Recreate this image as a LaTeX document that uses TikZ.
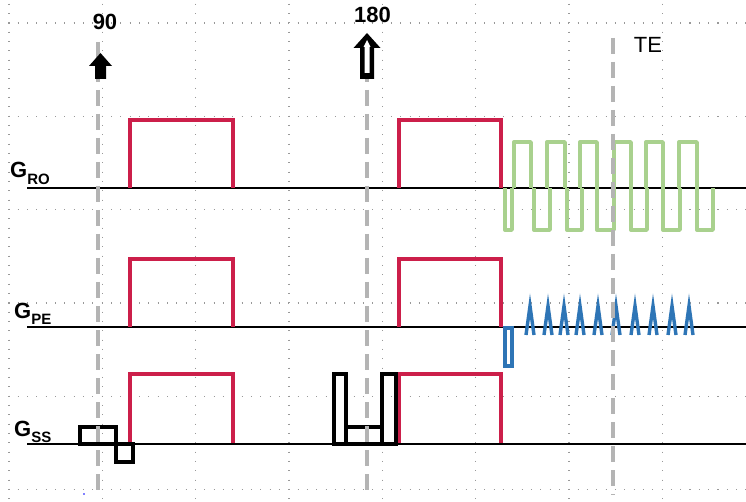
\documentclass[tikz,border=0pt]{standalone}
\usepackage{fontspec}
\setmainfont{Liberation Sans}
\definecolor{pulsered}{HTML}{CC1F4A}
\definecolor{rogreen}{HTML}{A9D18E}
\definecolor{peblue}{HTML}{2E75B6}
\definecolor{dashgray}{HTML}{B4B4B4}
\begin{document}
\begin{tikzpicture}[x=1pt,y=-1pt,
  griddot/.style={draw=gray!80, line width=1.1pt, dash pattern=on 1.1pt off 8.23pt},
  baseline/.style={draw=black, line width=2pt},
  rfpulse/.style={draw=pulsered, line width=3.2pt, line join=miter},
  sspulse/.style={draw=black, line width=3.4pt, line join=miter},
  greenlobe/.style={draw=rogreen, line width=3.4pt, line join=round},
  bluelobe/.style={draw=peblue, line width=3.2pt, line join=miter},
  blip/.style={draw=peblue, line width=3.4pt, line join=miter, miter limit=10},
  timeline/.style={draw=dashgray, line width=4.5pt, dash pattern=on 16pt off 8pt},
  lbl/.style={inner sep=0pt, font=\fontsize{22}{22}\selectfont}
]
\useasboundingbox (0,0) rectangle (746,502);
\fill[white] (0,0) rectangle (746,502);
% dotted grid
\foreach \k in {0,...,7} \draw[griddot] ({9+93.33*\k},3.7) -- ({9+93.33*\k},502);
\foreach \k in {0,...,5} \draw[griddot] (8.4,{23+93.33*\k}) -- (746,{23+93.33*\k});
\fill[blue] (84,494) circle (0.9pt);
% baselines
\draw[baseline] (27,188) -- (746,188);
\draw[baseline] (27,327) -- (746,327);
\draw[baseline] (27,444) -- (746,444);
% red pulses
\foreach \xa/\xb in {130/233, 399/501} {
  \draw[rfpulse] (\xa,188) -- (\xa,120) -- (\xb,120) -- (\xb,188);
  \draw[rfpulse] (\xa,327) -- (\xa,259) -- (\xb,259) -- (\xb,327);
  \draw[rfpulse] (\xa,443) -- (\xa,374) -- (\xb,374) -- (\xb,443);
}
% slice select 90
\draw[sspulse] (80,444) rectangle (116,427);
\draw[sspulse] (116,444) rectangle (133,462);
% slice select 180
\draw[sspulse] (334,444) rectangle (346,374);
\draw[sspulse] (346,444) rectangle (382,427);
\draw[sspulse] (382,444) rectangle (396,374);
% readout
\foreach \xa/\xb in {514/531, 547/565, 580/597, 614/631, 646/663, 679/697}
  \draw[greenlobe] (\xa,188) -- (\xa,142) -- (\xb,142) -- (\xb,188);
\foreach \xa/\xb in {505/512, 534/550, 567/582, 597/614, 631/647, 663/680, 697/713}
  \draw[greenlobe] (\xa,188) -- (\xa,230) -- (\xb,230) -- (\xb,188);
% phase encode
\draw[bluelobe] (505,328) rectangle (512,366);
\foreach \x in {530, 548, 564, 580, 598, 616, 635, 653, 672, 689}
  \draw[blip] (\x-4,335) -- (\x,306) -- (\x+4,335);
% time lines
\draw[timeline] (98,42) -- (98,495);
\draw[timeline] (367,42) -- (367,495);
\draw[timeline] (613,38) -- (613,495);
% RF arrows
\fill[black] (100.5,53) -- (112,66) -- (106,66) -- (106,79) -- (95,79) -- (95,66) -- (89,66) -- cycle;
\fill[black] (367,33) -- (380.5,48) -- (374,48) -- (374,79) -- (360,79) -- (360,48) -- (353.5,48) -- cycle;
\fill[white] (367,40) -- (370.5,47) -- (369.5,47) -- (369.5,73) -- (364.5,73) -- (364.5,47) -- (363.5,47) -- cycle;
% labels
\node[lbl, anchor=base, font=\fontsize{22}{22}\selectfont\bfseries] (t90) at (105,30) {90};
\node[lbl, anchor=base, font=\fontsize{22}{22}\selectfont\bfseries] (t180) at (372.5,23) {180};
\node[lbl, anchor=base] (tte) at (648,53) {TE};
\node[lbl, anchor=base west, font=\fontsize{22}{22}\selectfont\bfseries] (gro) at (10,178) {G\raisebox{-7pt}{\fontsize{15}{15}\selectfont RO}};
\node[lbl, anchor=base west, font=\fontsize{22}{22}\selectfont\bfseries] (gpe) at (14,318) {G\raisebox{-6pt}{\fontsize{15}{15}\selectfont PE}};
\node[lbl, anchor=base west, font=\fontsize{22}{22}\selectfont\bfseries] (gss) at (14,436) {G\raisebox{-6pt}{\fontsize{15}{15}\selectfont SS}};
\end{tikzpicture}
\end{document}
